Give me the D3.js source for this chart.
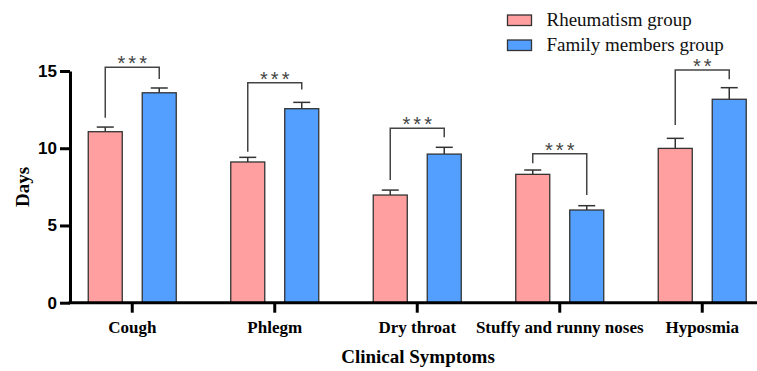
<!DOCTYPE html>
<html>
  <head>
    <meta charset="utf-8">
    <style>
      body { margin: 0; background: #fff; }
      svg { display: block; }
    </style>
    <script src="https://d3js.org/d3.v7.min.js"></script>
    <title>clinical symptoms</title>
  </head>
  <body>
    <div id="my_dataviz"></div>
    <script>
    // data (days, mean and upper error)
    var categories = ["Cough", "Phlegm", "Dry throat", "Stuffy and runny noses", "Hyposmia"]
    var groups = ["Rheumatism group", "Family members group"]
    var rheumMean = [11.07, 9.11, 6.97, 8.31, 9.99]
    var rheumErr = [0.30, 0.30, 0.32, 0.28, 0.65]
    var familyMean = [13.59, 12.56, 9.62, 6.00, 13.17]
    var familyErr = [0.31, 0.41, 0.44, 0.28, 0.75]
    // significance brackets: top, left leg end, right leg end (days)
    var sigTop = [15.25, 14.24, 11.29, 9.64, 15.06]
    var sigLeft = [11.97, 9.77, 7.94, 9.02, 11.51]
    var sigRight = [14.48, 13.81, 10.71, 6.97, 14.46]
    var sigLabel = ["***", "***", "***", "***", "**"]
    var yTicks = [0, 5, 10, 15]

    var colors = ["#FF9F9F", "#529FFF"]
    var W = 757, H = 371

    var svg = d3.select("#my_dataviz").append("svg")
      .attr("width", W).attr("height", H)

    var x = d3.scaleBand().domain(categories).range([61, 773.5]).padding(0)
    var x1 = d3.scaleBand().domain(groups).range([-44, 44]).paddingInner(0.37).paddingOuter(0)
    var y = d3.scaleLinear().domain([0, 15]).range([302.7, 71])

    function cx(c) { return x(c) + x.bandwidth() / 2 }

    // rows for bars
    var rows = []
    categories.forEach(function(c, i) {
      rows.push({cat: c, g: groups[0], v: rheumMean[i], e: rheumErr[i], col: colors[0]})
      rows.push({cat: c, g: groups[1], v: familyMean[i], e: familyErr[i], col: colors[1]})
    })

    // error bars (upper only)
    var capW = 17
    rows.forEach(function(d) {
      var mx = cx(d.cat) + x1(d.g) + x1.bandwidth() / 2
      svg.append("line")
        .attr("x1", mx).attr("x2", mx)
        .attr("y1", y(d.v)).attr("y2", y(d.v + d.e))
        .attr("stroke", "#333").attr("stroke-width", 1.5)
      svg.append("line")
        .attr("x1", mx - capW / 2).attr("x2", mx + capW / 2)
        .attr("y1", y(d.v + d.e)).attr("y2", y(d.v + d.e))
        .attr("stroke", "#333").attr("stroke-width", 1.5)
    })

    // bars
    svg.selectAll("rect.bar").data(rows).enter().append("rect")
      .attr("class", "bar")
      .attr("x", function(d) { return cx(d.cat) + x1(d.g) })
      .attr("width", x1.bandwidth())
      .attr("y", function(d) { return y(d.v) })
      .attr("height", function(d) { return y(0) - y(d.v) })
      .attr("fill", function(d) { return d.col })
      .attr("stroke", "#333").attr("stroke-width", 1.3)

    // significance brackets
    categories.forEach(function(c, i) {
      var xl = cx(c) + x1(groups[0]) + x1.bandwidth() / 2
      var xr = cx(c) + x1(groups[1]) + x1.bandwidth() / 2
      var yt = y(sigTop[i])
      svg.append("path")
        .attr("d", d3.line()([[xl, y(sigLeft[i])], [xl, yt], [xr, yt], [xr, y(sigRight[i])]]))
        .attr("fill", "none").attr("stroke", "#444").attr("stroke-width", 1.5)
      svg.append("text")
        .attr("x", (xl + xr) / 2 + 1.5).attr("y", yt + 3)
        .attr("text-anchor", "middle")
        .style("font-family", "'Liberation Sans', Arial, sans-serif")
        .style("font-size", "20px")
        .style("letter-spacing", "3px")
        .style("fill", "#444")
        .text(sigLabel[i])
    })

    // y axis
    var yAxis = svg.append("g")
      .attr("transform", "translate(70,0)")
      .call(d3.axisLeft(y).tickValues(yTicks).tickSize(10).tickSizeOuter(0).tickPadding(3))
    yAxis.select(".domain").attr("stroke", "#000").attr("stroke-width", 3)
    yAxis.selectAll(".tick line").attr("stroke", "#000").attr("stroke-width", 3)
    yAxis.selectAll(".tick text")
      .style("font-family", "'Liberation Sans', Arial, sans-serif")
      .style("font-weight", "bold").style("font-size", "17px").style("fill", "#000")

    // x axis
    var xAxis = svg.append("g")
      .attr("transform", "translate(0," + y(0) + ")")
      .call(d3.axisBottom(x).tickSize(10).tickPadding(8))
    xAxis.select(".domain").remove()
    xAxis.append("line")
      .attr("x1", 68.5).attr("x2", W).attr("y1", 0).attr("y2", 0)
      .attr("stroke", "#000").attr("stroke-width", 3)
    xAxis.selectAll(".tick line").attr("stroke", "#000").attr("stroke-width", 3)
    xAxis.selectAll(".tick text")
      .style("font-family", "'Liberation Serif', 'Times New Roman', serif")
      .style("font-weight", "bold").style("font-size", "17px").style("fill", "#000")

    // axis titles
    svg.append("text")
      .attr("x", 418).attr("y", 363)
      .attr("text-anchor", "middle")
      .style("font-family", "'Liberation Serif', 'Times New Roman', serif")
      .style("font-weight", "bold").style("font-size", "19px")
      .text("Clinical Symptoms")
    svg.append("text")
      .attr("transform", "translate(29,187) rotate(-90)")
      .attr("text-anchor", "middle")
      .style("font-family", "'Liberation Serif', 'Times New Roman', serif")
      .style("font-weight", "bold").style("font-size", "19px")
      .text("Days")

    // legend
    var legend = svg.selectAll("g.leg").data(groups).enter().append("g")
      .attr("class", "leg")
      .attr("transform", function(d, i) { return "translate(507.5," + (15 + i * 25) + ")" })
    legend.append("rect")
      .attr("width", 24).attr("height", 10.5)
      .attr("fill", function(d, i) { return colors[i] })
      .attr("stroke", "#333").attr("stroke-width", 1.3)
    legend.append("text")
      .attr("x", 39).attr("y", 11)
      .style("font-family", "'Liberation Serif', 'Times New Roman', serif")
      .style("font-size", "19px").style("fill", "#111")
      .text(function(d) { return d })
    </script>
  </body>
</html>
